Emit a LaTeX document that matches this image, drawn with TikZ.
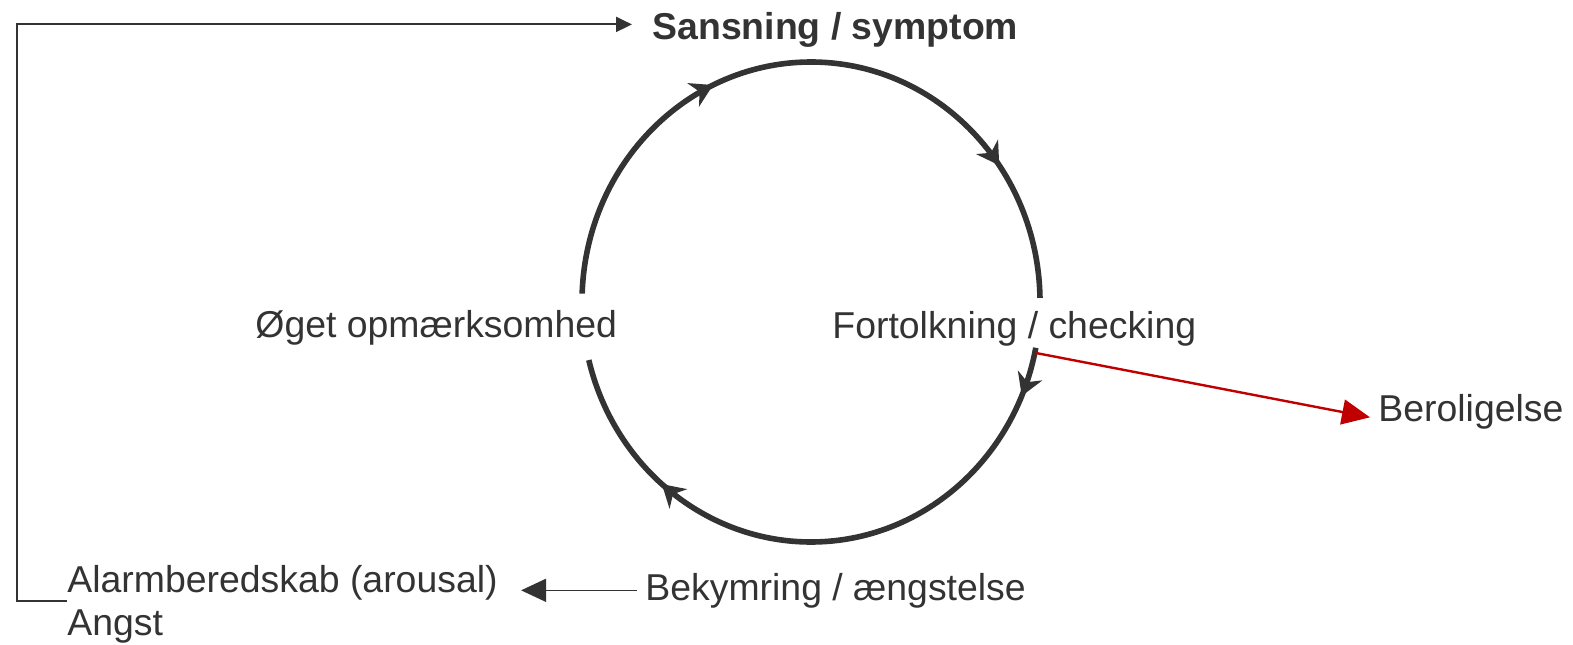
\documentclass[tikz,border=0pt]{standalone}
\usepackage{fontspec}
\setmainfont{Liberation Sans}
\usetikzlibrary{arrows.meta,decorations.markings}
\definecolor{ink}{HTML}{333333}
\definecolor{alarmred}{HTML}{C00000}
\tikzset{
  label/.style={inner sep=0pt,text=ink,font=\fontsize{18.7}{21.5}\selectfont},
  loop arc/.style={draw=ink,line width=2.8pt,postaction={decorate,decoration={markings,
      mark=at position #1 with {\arrow{Stealth[length=11pt,width=13pt,inset=3.5pt]}}}}},
}
\begin{document}
\begin{tikzpicture}[x=0.5pt,y=0.5pt,text=ink]
        \useasboundingbox (0,0) rectangle (1573,644);
        \coordinate (cen) at (811,342);
        \foreach \a/\b/\p in {178/89/0.71, 89/1/0.61, -11/-88/0.16, -88/-166/0.54} {
          \draw[loop arc=\p] ([shift={(\a:229 and 240)}]cen)
            arc[start angle=\a, end angle=\b, x radius=229, y radius=240];
        }
        \node[label,anchor=base west,font=\fontsize{18.7}{21.5}\selectfont\bfseries] (sym) at (652,604) {Sansning / symptom};
        \node[label,anchor=base west] (oget) at (255,307) {Øget opmærksomhed};
        \node[label,anchor=base west] (fort) at (832,306) {Fortolkning / checking};
        \node[label,anchor=base west] (bero) at (1378,223) {Beroligelse};
        \node[label,anchor=base west] (bek) at (645,44) {Bekymring / ængstelse};
        \node[label,anchor=west,align=left] (alarm) at (67,40) {Alarmberedskab (arousal)\\Angst};
        % feedback back to the symptom
        \draw[ink,line width=1pt,-{Triangle[length=8pt,width=7.5pt]}]
          ([yshift=1.5pt]alarm.west) -- ++(-25pt,0) |- ([xshift=-10pt,yshift=3pt]sym.west);
        \draw[ink,line width=0.8pt,-{Triangle[length=12.5pt,width=11.5pt]}]
          ([xshift=-4pt]bek.west) -- ([xshift=11.5pt]alarm.east |- bek.west);
        \coordinate (fork) at (1036,291);
        \draw[alarmred,line width=1.2pt,-{Triangle[length=14pt,width=12.5pt]}]
          (fork) -- ([xshift=-4pt,yshift=-3pt]bero.west);
      \end{tikzpicture}
\end{document}
